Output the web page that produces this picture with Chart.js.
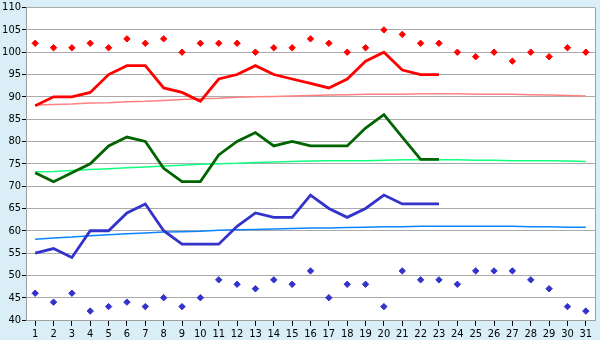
<!DOCTYPE html>
<html>
<head>
<meta charset="utf-8">
<script src="https://cdn.jsdelivr.net/npm/chart.js@4/dist/chart.umd.min.js"></script>
<style>
  html, body { margin: 0; padding: 0; background: #d9eef6; }
  #wrap { width: 600px; height: 340px; }
</style>
</head>
<body>
<div id="wrap"><canvas id="c" width="600" height="340"></canvas></div>
<script>
const days = ['1','2','3','4','5','6','7','8','9','10','11','12','13','14','15','16','17','18','19','20','21','22','23','24','25','26','27','28','29','30','31'];

const redLine = [88,90,90,91,95,97,97,92,91,89,94,95,97,95,94,93,92,94,98,100,96,95,95,null,null,null,null,null,null,null,null];
const redPoints = [102,101,101,102,101,103,102,103,100,102,102,102,100,101,101,103,102,100,101,105,104,102,102,100,99,100,98,100,99,101,100];
const redTrend = [88.2,88.3,88.4,88.6,88.7,88.9,89.0,89.2,89.4,89.6,89.7,89.9,90.0,90.1,90.2,90.3,90.4,90.5,90.6,90.6,90.6,90.7,90.7,90.7,90.6,90.6,90.6,90.5,90.4,90.3,90.2];

const greenLine = [73,71,73,75,79,81,80,74,71,71,77,80,82,79,80,79,79,79,83,86,81,76,76,null,null,null,null,null,null,null,null];
const greenTrend = [73.2,73.3,73.5,73.7,73.9,74.1,74.3,74.5,74.7,74.9,75.0,75.1,75.3,75.4,75.5,75.6,75.7,75.7,75.7,75.8,75.9,75.9,75.9,75.9,75.8,75.8,75.7,75.7,75.7,75.6,75.5];

const blueLine = [55,56,54,60,60,64,66,60,57,57,57,61,64,63,63,68,65,63,65,68,66,66,66,null,null,null,null,null,null,null,null];
const bluePoints = [46,44,46,42,43,44,43,45,43,45,49,48,47,49,48,51,45,48,48,43,51,49,49,48,51,51,51,49,47,43,42];
const blueTrend = [58.1,58.4,58.6,58.9,59.1,59.3,59.5,59.7,59.8,59.9,60.1,60.2,60.3,60.4,60.5,60.6,60.6,60.7,60.8,60.9,60.9,61.0,61.0,61.0,61.0,61.0,61.0,60.9,60.9,60.8,60.8];

const yMin = 40, yMax = 110, yStep = 5;

const bgPlugin = {
  id: 'bg',
  beforeDraw(chart) {
    const ctx = chart.ctx, a = chart.chartArea;
    ctx.save();
    ctx.fillStyle = '#d9eef6';
    ctx.fillRect(0, 0, chart.width, chart.height);
    ctx.fillStyle = '#ffffff';
    ctx.fillRect(a.left, a.top, a.right - a.left, a.bottom - a.top);
    ctx.restore();
  },
  afterDatasetsDraw(chart) {
    const ctx = chart.ctx, a = chart.chartArea;
    ctx.save();
    ctx.strokeStyle = '#a0a0a0';
    ctx.lineWidth = 1;
    ctx.beginPath();
    ctx.moveTo(Math.round(a.right) + 0.5, a.top);
    ctx.lineTo(Math.round(a.right) + 0.5, a.bottom);
    ctx.stroke();
    ctx.restore();
  }
};

function lineDs(data, color, width, order) {
  return { type: 'line', data, borderColor: color, backgroundColor: color, borderWidth: width,
    pointRadius: 0, tension: 0, fill: false, spanGaps: false, order };
}
function ptDs(data, color) {
  return { type: 'line', data, showLine: false, borderColor: color, backgroundColor: color,
    pointStyle: 'rectRot', pointRadius: 3.2, pointBorderWidth: 1, order: 0 };
}

const tickFont = { family: "'DejaVu Sans Condensed', 'Liberation Sans', sans-serif", size: 11 };

new Chart(document.getElementById('c'), {
  type: 'line',
  data: {
    labels: days,
    datasets: [
      lineDs(redLine, '#ff0000', 2.8, 1),
      lineDs(greenLine, '#006400', 2.8, 1),
      lineDs(blueLine, '#3333cc', 2.8, 1),
      lineDs(redTrend, '#ff8080', 1.5, 2),
      lineDs(greenTrend, '#11ff80', 1.5, 2),
      lineDs(blueTrend, '#0a84ff', 1.5, 2),
      ptDs(redPoints, '#ff0000'),
      ptDs(bluePoints, '#3333cc')
    ]
  },
  options: {
    responsive: false,
    animation: false,
    devicePixelRatio: 1,
    layout: { padding: { top: 5, right: 5, left: 0, bottom: 0 } },
    plugins: { legend: { display: false }, tooltip: { enabled: false } },
    scales: {
      x: {
        offset: true,
        grid: { display: true, drawOnChartArea: false, drawTicks: true, tickLength: 6, tickColor: '#000000', offset: false },
        border: { color: '#a0a0a0' },
        ticks: { color: '#000000', font: tickFont, padding: 2, maxRotation: 0, autoSkip: false },
        afterFit(s) { s.height = 20; }
      },
      y: {
        min: yMin, max: yMax,
        grid: { color: '#aaaaaa', lineWidth: 1, drawTicks: true, tickLength: 4, tickColor: '#000000' },
        border: { color: '#a0a0a0' },
        ticks: { stepSize: yStep, color: '#000000', font: tickFont, padding: 1 },
        afterFit(s) { s.width = 26; }
      }
    }
  },
  plugins: [bgPlugin]
});
</script>
</body>
</html>
